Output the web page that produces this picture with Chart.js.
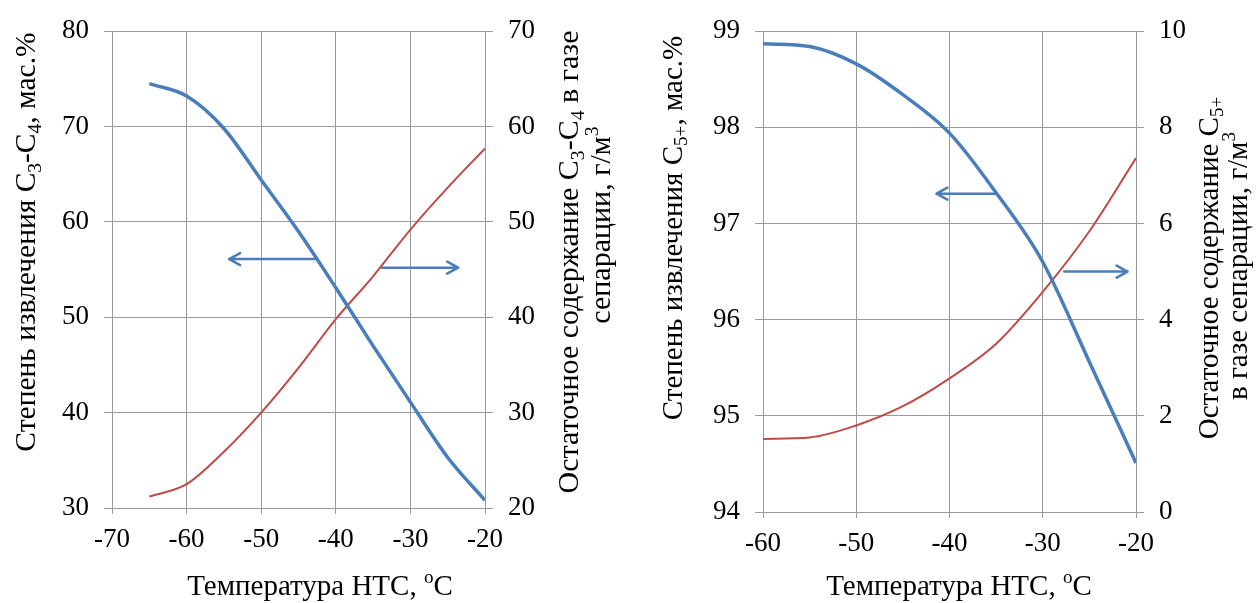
<!DOCTYPE html>
<html>
<head>
<meta charset="utf-8">
<script src="https://cdn.jsdelivr.net/npm/chart.js@4.4.0/dist/chart.umd.min.js"></script>
<style>
  body { margin: 0; background: #fff; }
  .wrap { position: relative; width: 1258px; height: 603px; }
  canvas { position: absolute; top: 0; }
  #grafico-1 { left: 0; }
  #grafico-2 { left: 629px; }
</style>
</head>
<body>
<div class="wrap">
  <canvas id="grafico-1" width="629" height="603"></canvas>
  <canvas id="grafico-2" width="629" height="603"></canvas>
</div>
<script>
// Температура НТС, °C
const tempsC34 = [-65, -60, -55, -50, -45, -40, -35, -30, -25, -20];
// Степень извлечения C3-C4, мас.%
const recoveryC34 = [74.5, 73.2, 69.8, 64.4, 59.0, 53.1, 47.0, 41.1, 35.3, 30.8];
// Остаточное содержание C3-C4, г/м3
const residualC34 = [21.2, 22.5, 25.9, 30.0, 34.7, 39.8, 44.3, 49.2, 53.6, 57.7];

const tempsC5 = [-60, -55, -50, -45, -40, -35, -30, -25, -20];
const recoveryC5 = [98.87, 98.84, 98.66, 98.34, 97.94, 97.32, 96.6, 95.56, 94.51];
const residualC5 = [1.52, 1.55, 1.80, 2.20, 2.78, 3.50, 4.58, 5.84, 7.36];

// ticks
const xTicksC34 = [-70, -60, -50, -40, -30, -20];
const xTicksC5 = [-60, -50, -40, -30, -20];

const BLUE = "#4A7EBB";
const RED = "#BE4B48";
const GRID = "#9a9a9a";
const SERIF = "'Liberation Serif', 'Times New Roman', serif";

const toPoints = (xs, ys) => xs.map((x, i) => ({ x: x, y: ys[i] }));

// texto con subíndices / superíndices
const drawRich = (ctx, parts, cx, cy, size, angle) => {
  const small = size * 0.66;
  ctx.save();
  ctx.translate(cx, cy);
  ctx.rotate(angle);
  let total = 0;
  parts.forEach(([t, mode]) => {
    ctx.font = `${mode ? small : size}px ${SERIF}`;
    total += ctx.measureText(t).width;
  });
  let x = -total / 2;
  ctx.textBaseline = "alphabetic";
  ctx.fillStyle = "#000";
  parts.forEach(([t, mode]) => {
    ctx.font = `${mode ? small : size}px ${SERIF}`;
    let dy = size * 0.33;
    if (mode === "sub") dy += size * 0.2;
    if (mode === "sup") dy -= size * 0.4;
    ctx.fillText(t, x, dy);
    x += ctx.measureText(t).width;
  });
  ctx.restore();
};

const drawArrow = (chart, a) => {
  const ctx = chart.ctx;
  const x1 = chart.scales.x.getPixelForValue(a.from);
  const x2 = chart.scales.x.getPixelForValue(a.to);
  const y = chart.scales[a.axis].getPixelForValue(a.y);
  const dir = Math.sign(x2 - x1);
  ctx.save();
  ctx.strokeStyle = BLUE;
  ctx.lineWidth = 2.5;
  ctx.lineCap = "round";
  ctx.lineJoin = "round";
  ctx.beginPath();
  ctx.moveTo(x1, y);
  ctx.lineTo(x2, y);
  ctx.moveTo(x2 - dir * 11, y - 6);
  ctx.lineTo(x2, y);
  ctx.lineTo(x2 - dir * 11, y + 6);
  ctx.stroke();
  ctx.restore();
};

const extras = {
  id: "extras",
  afterDatasetsDraw(chart, args, opts) {
    (opts.arrows || []).forEach(a => drawArrow(chart, a));
    (opts.titles || []).forEach(t => drawRich(chart.ctx, t.parts, t.x, t.y, t.size, t.angle || 0));
  },
};

const tickFont = { family: SERIF, size: 27 };

const makeChart = (el, cfg) => new Chart(el, {
  type: "line",
  data: {
    datasets: [
      {
        data: cfg.left,
        yAxisID: "y",
        borderColor: BLUE,
        borderWidth: 3.5,
        pointRadius: 0,
        cubicInterpolationMode: "monotone",
      },
      {
        data: cfg.right,
        yAxisID: "y2",
        borderColor: RED,
        borderWidth: 2,
        pointRadius: 0,
        cubicInterpolationMode: "monotone",
      },
    ],
  },
  options: {
    responsive: false,
    animation: false,
    devicePixelRatio: 1,
    layout: { padding: { top: 20, left: 0, right: 0, bottom: 0 } },
    plugins: {
      legend: { display: false },
      tooltip: { enabled: false },
      extras: { arrows: cfg.arrows, titles: cfg.titles },
    },
    scales: {
      x: {
        type: "linear",
        min: cfg.xTicks[0],
        max: cfg.xTicks[cfg.xTicks.length - 1],
        afterBuildTicks: s => { s.ticks = cfg.xTicks.map(v => ({ value: v })); },
        afterFit: s => { s.height = cfg.xHeight; },
        grid: { color: GRID, tickLength: 6, tickColor: GRID },
        border: { color: GRID },
        ticks: { color: "#000", font: tickFont, padding: 10, maxRotation: 0 },
      },
      y: {
        position: "left",
        min: cfg.yMin, max: cfg.yMax,
        ticks: { stepSize: cfg.yStep, color: "#000", font: tickFont, padding: 15 },
        afterFit: s => { s.width = cfg.yWidth; },
        grid: { color: GRID, tickLength: 8, tickColor: GRID },
        border: { color: GRID },
      },
      y2: {
        position: "right",
        min: cfg.y2Min, max: cfg.y2Max,
        ticks: { stepSize: cfg.y2Step, color: "#000", font: tickFont, padding: 15 },
        afterFit: s => { s.width = cfg.y2Width; },
        grid: { drawOnChartArea: false, tickLength: 8, tickColor: GRID },
        border: { color: GRID },
      },
    },
  },
  plugins: [extras],
});

const UP = -Math.PI / 2;

makeChart(document.getElementById("grafico-1"), {
  left: toPoints(tempsC34, recoveryC34),
  right: toPoints(tempsC34, residualC34),
  xTicks: xTicksC34,
  yMin: 30, yMax: 80, yStep: 10,
  y2Min: 20, y2Max: 70, y2Step: 10,
  yWidth: 112, y2Width: 144, xHeight: 95,
  arrows: [
    { from: -42.7, to: -54.3, y: 56.1, axis: "y" },
    { from: -33.8, to: -23.6, y: 45.2, axis: "y2" },
  ],
  titles: [
    { x: 320, y: 585, size: 29, parts: [["Температура НТС, "], ["o", "sup"], ["C"]] },
    { x: 25, y: 242, size: 29.5, angle: UP, parts: [["Степень извлечения C"], ["3", "sub"], ["-C"], ["4", "sub"], [", мас.%"]] },
    { x: 568, y: 262, size: 30, angle: UP, parts: [["Остаточное содержание C"], ["3", "sub"], ["-C"], ["4", "sub"], [" в газе"]] },
    { x: 600, y: 225, size: 30, angle: UP, parts: [["сепарации, г/м"], ["3", "sup"]] },
  ],
});

makeChart(document.getElementById("grafico-2"), {
  left: toPoints(tempsC5, recoveryC5),
  right: toPoints(tempsC5, residualC5),
  xTicks: xTicksC5,
  yMin: 94, yMax: 99, yStep: 1,
  y2Min: 0, y2Max: 10, y2Step: 2,
  yWidth: 134, y2Width: 122, xHeight: 91,
  arrows: [
    { from: -34.9, to: -41.4, y: 97.31, axis: "y" },
    { from: -27.7, to: -20.9, y: 5.0, axis: "y2" },
  ],
  titles: [
    { x: 330, y: 585, size: 29, parts: [["Температура НТС, "], ["o", "sup"], ["C"]] },
    { x: 43, y: 228, size: 29, angle: UP, parts: [["Степень извлечения C"], ["5+", "sub"], [", мас.%"]] },
    { x: 579, y: 268, size: 29, angle: UP, parts: [["Остаточное содержание C"], ["5+", "sub"]] },
    { x: 608, y: 266, size: 29, angle: UP, parts: [["в газе сепарации, г/м"], ["3", "sup"]] },
  ],
});
</script>
</body>
</html>
